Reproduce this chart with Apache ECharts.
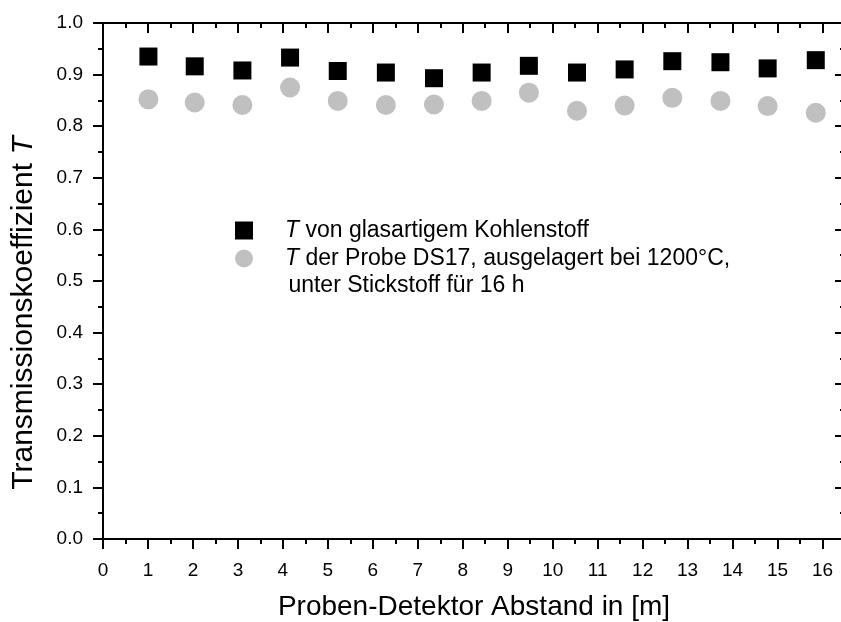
<!DOCTYPE html>
<html>
<head>
<meta charset="utf-8">
<script src="https://cdn.jsdelivr.net/npm/echarts@6/dist/echarts.min.js"></script>
<style>
  html, body { margin: 0; padding: 0; background: #ffffff; overflow: hidden; }
  /* slightly wider than the window so the right frame line sits just past the edge */
  #chart { width: 850px; height: 622px; }
</style>
</head>
<body>
<div id="chart"></div>
<script>
// Sample-to-detector distance in metres
const distances = [1.01, 2.04, 3.10, 4.16, 5.22, 6.29, 7.36, 8.42, 9.47, 10.54, 11.60, 12.66, 13.73, 14.78, 15.85];
// Transmission coefficient T of glassy carbon
const tGlassyCarbon = [0.935, 0.916, 0.908, 0.933, 0.907, 0.904, 0.893, 0.904, 0.917, 0.904, 0.910, 0.926, 0.924, 0.912, 0.928];
// Transmission coefficient T of sample DS17 (annealed 1200 °C, N2, 16 h)
const tSampleDS17 = [0.852, 0.846, 0.841, 0.875, 0.849, 0.841, 0.842, 0.849, 0.865, 0.830, 0.840, 0.855, 0.849, 0.839, 0.826];

const seriesNames = [
  'T von glasartigem Kohlenstoff',
  'T der Probe DS17, ausgelagert bei 1200°C,'
];
const legendContinuation = ' unter Stickstoff für 16 h';
const xTitle = 'Proben-Detektor Abstand in [m]';
const yTitle = 'Transmissionskoeffizient';

const FONT = '"Liberation Sans", Arial, Helvetica, sans-serif';
const BLACK = '#000000';

const chart = echarts.init(document.getElementById('chart'), null, { renderer: 'canvas' });

const lineStyle = { color: BLACK, width: 2 };

function xAxisCfg(position, inside, showLabel) {
  return {
    type: 'value', position: position, min: 0, max: 16.5, interval: 1,
    axisLine: { show: true, onZero: false, lineStyle: lineStyle },
    axisTick: { show: true, inside: inside, length: 10, lineStyle: lineStyle },
    minorTick: { show: true, splitNumber: 2, length: 5, lineStyle: lineStyle },
    splitLine: { show: false },
    axisLabel: {
      show: showLabel, margin: 22, color: BLACK, fontFamily: FONT, fontSize: 19,
      showMaxLabel: false,
      formatter: v => (Math.abs(v - Math.round(v)) < 1e-9 ? String(Math.round(v)) : '')
    }
  };
}
function yAxisCfg(position, inside, showLabel) {
  return {
    type: 'value', position: position, min: 0, max: 1, interval: 0.1,
    axisLine: { show: true, onZero: false, lineStyle: lineStyle },
    axisTick: { show: true, inside: inside, length: 10, lineStyle: lineStyle },
    minorTick: { show: true, splitNumber: 2, length: 5, lineStyle: lineStyle },
    splitLine: { show: false },
    axisLabel: {
      show: showLabel, margin: 20, color: BLACK, fontFamily: FONT, fontSize: 19,
      formatter: v => v.toFixed(1)
    }
  };
}

const LEGEND_FS = 23;
const italicT = { fontStyle: 'italic', fontFamily: FONT, fontSize: LEGEND_FS, color: BLACK };

chart.setOption({
  animation: false,
  backgroundColor: '#ffffff',
  grid: { left: 103, top: 23, width: 742, height: 516, containLabel: false },
  xAxis: [xAxisCfg('bottom', false, true), xAxisCfg('top', true, false)],
  yAxis: [yAxisCfg('left', false, true), yAxisCfg('right', true, false)],
  legend: {
    orient: 'vertical', left: 235, top: 219, padding: 0,
    itemWidth: 18, itemHeight: 18, itemGap: 5,
    data: [
      { name: seriesNames[0], icon: 'rect' },
      { name: seriesNames[1], icon: 'circle' }
    ],
    formatter: name => '{i|T}' + name.slice(1),
    textStyle: {
      color: BLACK, fontFamily: FONT, fontSize: LEGEND_FS, padding: [0, 0, 0, 27],
      rich: { i: italicT }
    }
  },
  graphic: [
    {
      type: 'text', x: 282, y: 286,
      style: {
        text: legendContinuation, fill: BLACK, font: LEGEND_FS + 'px ' + FONT,
        verticalAlign: 'middle'
      }
    },
    {
      type: 'text', x: 24, y: 313, rotation: Math.PI / 2,
      style: {
        text: yTitle + ' {i|T}', fill: BLACK, font: '30px ' + FONT,
        align: 'center', verticalAlign: 'middle',
        rich: { i: { fontStyle: 'italic', fontFamily: FONT, fontSize: 30, fill: BLACK } }
      }
    },
    {
      type: 'text', x: 474, y: 607,
      style: {
        text: xTitle, fill: BLACK, font: '28px ' + FONT,
        align: 'center', verticalAlign: 'middle'
      }
    }
  ],
  series: [
    {
      name: seriesNames[0], type: 'scatter', xAxisIndex: 0, yAxisIndex: 0,
      symbol: 'rect', symbolSize: 18, z: 3,
      itemStyle: { color: BLACK, opacity: 1 },
      data: distances.map((d, i) => [d, tGlassyCarbon[i]])
    },
    {
      name: seriesNames[1], type: 'scatter', xAxisIndex: 0, yAxisIndex: 0,
      symbol: 'circle', symbolSize: 20, z: 2,
      itemStyle: { color: '#c0c0c0', opacity: 1 },
      data: distances.map((d, i) => [d, tSampleDS17[i]])
    }
  ]
});
</script>
</body>
</html>
